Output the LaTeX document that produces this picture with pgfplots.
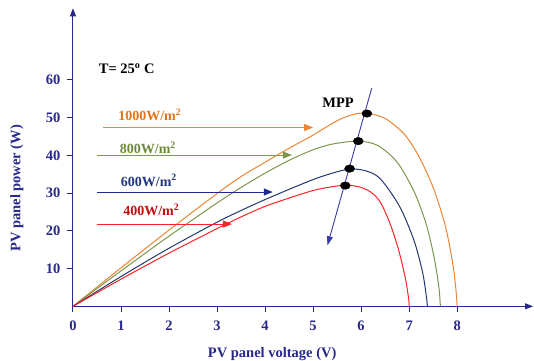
\documentclass[border=0pt]{standalone}
\usepackage{fontspec}
\setmainfont{Liberation Serif}
\usepackage{pgfplots}
\pgfplotsset{compat=1.18}
\usetikzlibrary{arrows.meta}
\definecolor{axnavy}{HTML}{28288C}
\definecolor{corange}{HTML}{EC8535}
\definecolor{cgreen}{HTML}{7C974C}
\definecolor{cblue}{HTML}{22386E}
\definecolor{cred}{HTML}{F52525}
\definecolor{lorange}{HTML}{E2761E}
\definecolor{lgreen}{HTML}{6E8A3A}
\definecolor{lblue}{HTML}{23367E}
\definecolor{lred}{HTML}{C01010}
\definecolor{arrblue}{HTML}{1E2890}
\definecolor{mppline}{HTML}{3A3AAA}
\begin{document}
\begin{tikzpicture}
\begin{axis}[
  scale only axis, width=460pt, height=298pt,
  xmin=0, xmax=9.58, ymin=0, ymax=79,
  axis x line=bottom, axis y line=left,
  axis line style={axnavy, line width=1pt},
  every outer x axis line/.append style={-{Triangle[length=8pt,width=6pt]}},
  every outer y axis line/.append style={-{Triangle[length=8pt,width=6pt]}},
  xtick={0,1,...,8}, ytick={10,20,...,60},
  tick align=outside, major tick length=6pt,
  tick style={axnavy, line width=1pt},
  /pgf/number format/assume math mode=true,
  tick label style={font=\bfseries\fontsize{14.5}{14.5}\selectfont, text=axnavy},
  xticklabel style={yshift=-5pt},
  yticklabel style={xshift=-3pt},
  xlabel={PV panel voltage (V)}, ylabel={PV panel power (W)},
  label style={font=\bfseries\fontsize{14.5}{15}\selectfont, text=axnavy},
  xlabel style={at={(axis description cs:0.433,0)}, anchor=north, yshift=-38pt},
  ylabel style={at={(axis description cs:0,0.396)}, anchor=south, yshift=46pt},
  clip=false,
]
\coordinate (bl) at (axis cs:-1.52,-14.3);
\coordinate (tr) at (axis cs:9.60,81.2);
% curves
\addplot[corange, line width=1pt, smooth, tension=0.5] coordinates {
(0,0) (1,10.2) (2,20.2) (3,29.9) (3.5,34.4) (4,38.2) (4.5,41.9) (5,45.4) (5.5,49.2) (5.85,50.9) (6.12,51.2) (6.5,49.8) (6.9,45.6) (7.2,39.8) (7.5,31.5) (7.75,21.5) (7.9,12) (7.97,5) (8.0,0)};
\addplot[cgreen, line width=1pt, smooth, tension=0.5] coordinates {
(0,0) (1,9.4) (2,18.6) (3,27.4) (3.5,31.5) (4,35.3) (4.5,38.7) (5,41.5) (5.4,43.0) (5.94,43.8) (6.35,42.6) (6.75,38.2) (7.1,30.5) (7.35,22) (7.52,13) (7.62,5) (7.65,0)};
\addplot[cblue, line width=1pt, smooth, tension=0.5] coordinates {
(0,0) (1,7.9) (2,15.4) (3,22.3) (3.5,25.4) (4,28.3) (4.5,31.0) (5,33.6) (5.4,35.3) (5.77,36.4) (6.1,35.9) (6.4,33.8) (6.8,26.5) (7.1,17.5) (7.28,9) (7.36,2.5) (7.38,0)};
\addplot[cred, line width=1pt, smooth, tension=0.5] coordinates {
(0,0) (1,7.2) (2,14.1) (3,20.6) (3.5,23.7) (4,26.5) (4.5,28.7) (5,30.7) (5.35,31.6) (5.67,32.1) (5.95,31.7) (6.2,30.3) (6.4,27.6) (6.6,22) (6.78,15) (6.92,7.5) (6.99,2) (7.0,0)};
% irradiance arrows
\addplot[corange, line width=1pt, -{Triangle[length=9pt,width=7pt]}] coordinates {(0.63,47.4) (5.0,47.4)};
\addplot[cgreen, line width=1pt, -{Triangle[length=9pt,width=7pt]}] coordinates {(0.49,40.1) (4.56,40.1)};
\addplot[arrblue, line width=1pt, -{Triangle[length=9pt,width=7pt]}] coordinates {(0.49,30.3) (4.16,30.3)};
\addplot[cred, line width=1pt, -{Triangle[length=9pt,width=7pt]}] coordinates {(0.49,21.8) (3.31,21.8)};
% MPP line
\addplot[mppline, line width=0.9pt, -{Triangle[length=9pt,width=6pt]}] coordinates {(6.22,57.8) (5.30,16.2)};
\addplot[only marks, mark=*, mark size=5pt, mark options={fill=black, draw=black, yscale=0.75}] coordinates {
(6.12,51.1) (5.94,43.8) (5.76,36.5) (5.67,32.0)};
% labels
\node[font=\bfseries\fontsize{14}{14}\selectfont, text=lorange] at (axis cs:1.6,50.7) {1000W/m\textsuperscript{2}};
\node[font=\bfseries\fontsize{14}{14}\selectfont, text=lgreen] at (axis cs:1.56,42.0) {800W/m\textsuperscript{2}};
\node[font=\bfseries\fontsize{14}{14}\selectfont, text=lblue] at (axis cs:1.58,33.4) {600W/m\textsuperscript{2}};
\node[font=\bfseries\fontsize{14}{14}\selectfont, text=lred] at (axis cs:1.63,25.6) {400W/m\textsuperscript{2}};
\node[font=\bfseries\fontsize{14.5}{14.5}\selectfont, text=black] at (axis cs:1.12,62.9) {T= 25\textsuperscript{o} C};
\node[font=\bfseries\fontsize{14.5}{14.5}\selectfont, text=black] at (axis cs:5.52,53.9) {MPP};
\end{axis}
\pgfresetboundingbox
\useasboundingbox (bl) rectangle (tr);
\end{tikzpicture}
\end{document}
